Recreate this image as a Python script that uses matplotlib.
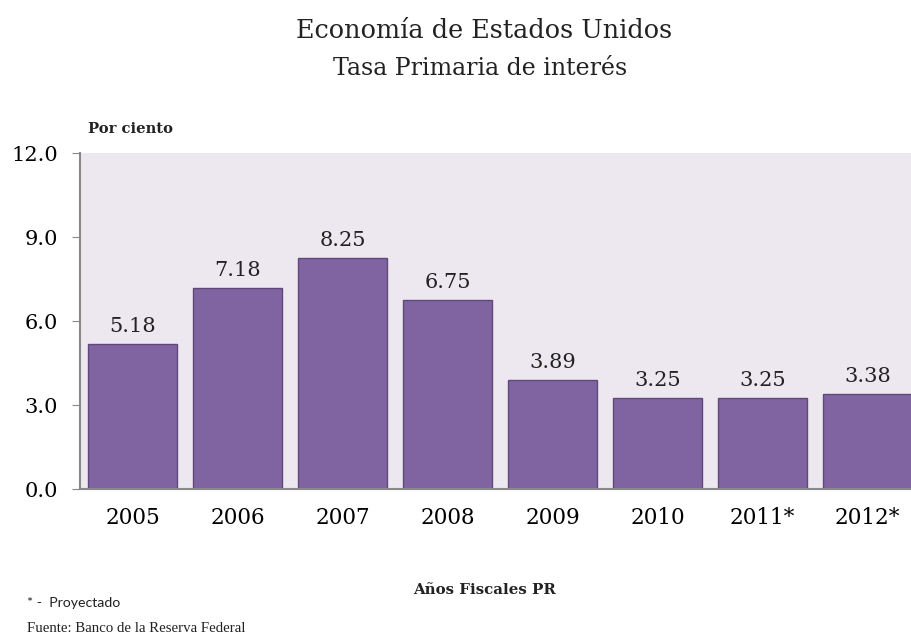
import matplotlib.pyplot as plt
import numpy as np

years = ["2005", "2006", "2007", "2008", "2009", "2010", "2011*", "2012*"]
rates = [5.18, 7.18, 8.25, 6.75, 3.89, 3.25, 3.25, 3.38]
yticks = [0.0, 3.0, 6.0, 9.0, 12.0]

serif = "DejaVu Serif"

fig = plt.figure(figsize=(9.12, 6.36), dpi=100)
ax = fig.add_axes([0.0877, 0.2311, 0.921, 0.5283])
ax.set_facecolor("#ede7ef")

x = np.arange(len(years))
bars = ax.bar(x, rates, width=0.84, color="#8064a2", edgecolor="#5f497a", linewidth=1)
for b, v in zip(bars, rates):
    ax.text(b.get_x() + b.get_width() / 2, v + 0.3, f"{v:.2f}",
            ha="center", va="bottom", fontsize=15, family=serif, color="#222222")

ax.set_xlim(-0.5, len(years) - 0.5)
ax.set_ylim(0, 12)
ax.set_yticks(yticks)
ax.set_yticklabels([f"{t:.1f}" for t in yticks], family=serif, fontsize=15)
ax.set_xticks(x)
ax.set_xticklabels(years, family=serif, fontsize=15.5)
ax.tick_params(axis="x", length=0, pad=13)
ax.tick_params(axis="y", length=6, color="#888888", pad=10)
for s in ["top", "right"]:
    ax.spines[s].set_visible(False)
for s in ["left", "bottom"]:
    ax.spines[s].set_color("#888888")
    ax.spines[s].set_linewidth(1.5)

# titulos
fig.text(0.531, 0.940, "Economía de Estados Unidos", ha="center", va="baseline",
         fontsize=18.4, family=serif, color="#222222")
fig.text(0.527, 0.882, "Tasa Primaria de interés", ha="center", va="baseline",
         fontsize=17.1, family=serif, color="#222222")
fig.text(0.097, 0.791, "Por ciento", ha="left", va="baseline",
         fontsize=10.6, family=serif, weight="bold", color="#222222")
fig.text(0.531, 0.072, "Años Fiscales PR", ha="center", va="center",
         fontsize=10.8, family=serif, weight="bold", color="#222222")
fig.text(0.030, 0.052, "* -  Proyectado", ha="left", va="center",
         fontsize=10.2, family="Lato", color="#222222")
fig.text(0.030, 0.012, "Fuente: Banco de la Reserva Federal", ha="left", va="center",
         fontsize=10.7, family="Liberation Serif", color="#222222")

fig.savefig("out.png", dpi=100)
